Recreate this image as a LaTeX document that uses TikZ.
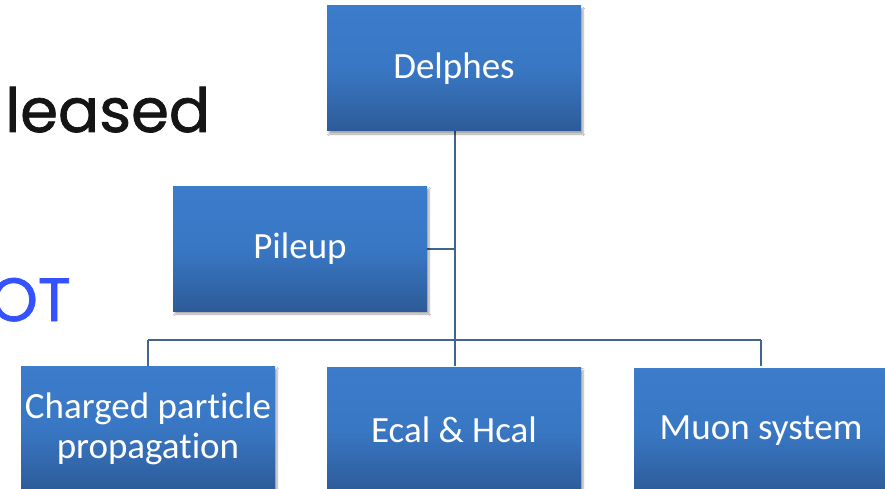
\documentclass[tikz,border=0pt]{standalone}
\usepackage{fontspec}
\setmainfont{Carlito}[Ligatures=NoCommon]
\newfontfamily\slidefont{Poppins}[FakeBold=1.2]
\usetikzlibrary{shadows.blur}
\definecolor{boxtop}{HTML}{3B7CCB}
\definecolor{boxbot}{HTML}{2D5B99}
\definecolor{linecol}{HTML}{41658F}
\definecolor{otblue}{HTML}{3452FF}
\definecolor{slidetext}{HTML}{151515}
\tikzset{
  orgbox/.style={rectangle, minimum width=254pt, minimum height=125pt, inner sep=0pt,
    top color=boxtop, bottom color=boxbot, middle color=boxtop!85!boxbot,
    text=white, align=center, font=\fontsize{37}{40}\selectfont,
    blur shadow={shadow xshift=2pt, shadow yshift=-3pt, shadow blur steps=6, shadow opacity=35}},
  conn/.style={draw=linecol, line width=2pt},
  slidetxt/.style={inner sep=0pt, font=\slidefont\fontsize{61}{66}\selectfont}
}
\begin{document}
\begin{tikzpicture}[x=1pt,y=-1pt]
\useasboundingbox (0,0) rectangle (885,489);
\clip (0,0) rectangle (885,489);
\fill[white] (0,0) rectangle (885,489);
\node[slidetxt, text=slidetext, anchor=base west] (leased) at (5,132) {leased};
\node[slidetxt, text=otblue, anchor=base east] (ot) at (71,321) {OT};
\coordinate (junc) at (455,249);
\coordinate (bus) at (455,340);
\coordinate (busl) at (148,340);
\coordinate (busr) at (761,340);
\draw[conn] (455,131) -- (bus);
\draw[conn] (427,249) -- (junc);
\draw[conn] (busl) -- (busr);
\draw[conn] (busl) -- (148,366);
\draw[conn] (bus) -- (455,366);
\draw[conn] (busr) -- (761,366);
\node[orgbox] (delphes) at (454,68.5) {Delphes};
\node[orgbox] (pileup) at (300,248.5) {Pileup};
\node[orgbox] (charged) at (148,428.5) {Charged particle\\propagation};
\node[orgbox] (ecal) at (454,430) {Ecal \& Hcal};
\node[orgbox] (muon) at (761,431) {Muon system};
\end{tikzpicture}
\end{document}
